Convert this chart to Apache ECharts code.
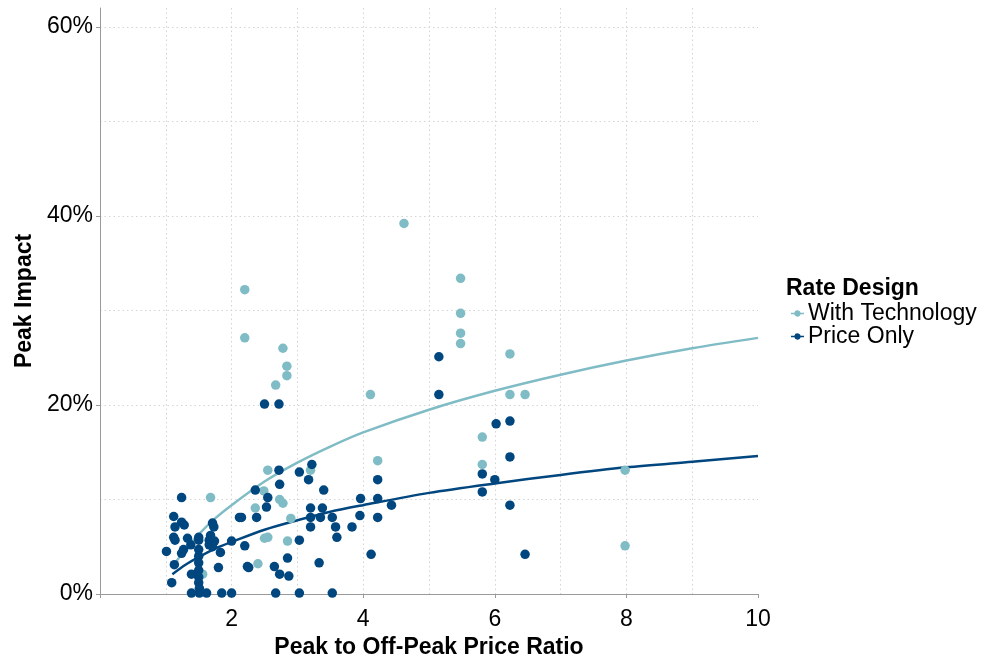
<!DOCTYPE html>
<html>
<head>
<meta charset="utf-8">
<script src="https://cdn.jsdelivr.net/npm/echarts@6/dist/echarts.min.js"></script>
<style>html,body{margin:0;padding:0;background:#fff}#c{width:982px;height:655px}</style>
</head>
<body>
<div id="c"></div>
<script>
var xTicks = [2, 4, 6, 8, 10];
var yTicks = [0, 20, 40, 60];
var seriesNames = ['With Technology', 'Price Only'];

var withTechnology = [
  [2.20,32.2],[2.20,27.1],[2.78,26.0],[2.84,24.1],[2.84,23.1],[2.67,22.1],[4.11,21.1],[4.62,39.2],
  [5.48,33.4],[5.48,29.7],[5.48,27.6],[5.48,26.5],[6.23,25.4],[6.23,21.1],[6.46,21.1],[5.81,16.6],
  [5.81,13.7],[7.98,13.1],[7.98,5.1],[4.22,14.1],[3.20,13.1],[2.55,13.1],[2.49,10.9],[2.73,10.0],
  [2.78,9.6],[2.36,9.1],[2.90,8.0],[2.50,5.9],[2.55,6.0],[2.85,5.6],[2.40,3.2],[1.68,10.2],[1.56,2.1]
];

var priceOnly = [
  [2.50,20.1],[2.72,20.1],[3.22,13.7],[5.15,25.1],[5.15,21.1],[6.02,18.0],[6.23,18.3],[6.23,14.5],
  [5.81,12.7],[6.00,12.1],[5.81,10.8],[6.23,9.4],[6.46,4.2],
  [4.22,12.1],[4.22,10.1],[3.96,10.1],[4.43,9.4],[3.95,8.3],[4.22,8.1],[3.83,7.1],[4.12,4.2],
  [3.20,9.1],[3.38,9.1],[3.20,8.1],[3.35,8.1],[3.53,8.1],[3.20,7.1],[3.58,7.1],[3.60,6.0],[3.03,5.7],
  [3.17,12.1],[3.03,12.9],[3.40,11.0],[3.33,3.3],[3.53,0.1],[3.03,0.1],
  [2.72,13.1],[2.73,11.6],[2.36,11.0],[2.55,10.2],[2.53,9.2],[2.15,8.1],[2.38,8.1],[2.20,5.1],
  [2.85,3.8],[2.26,2.8],[2.65,2.9],[2.73,2.1],[2.87,1.9],[2.67,0.1],
  [1.24,10.2],[1.12,8.2],[1.24,7.6],[1.28,7.3],[1.14,7.1],[1.12,6.0],[1.14,5.7],[1.33,5.9],
  [1.50,6.0],[1.50,5.7],[1.71,7.5],[1.73,7.1],[1.68,6.2],[1.66,5.7],[1.74,5.6],[1.01,4.5],
  [1.27,4.7],[1.24,4.3],[1.38,5.2],[1.50,4.7],[1.50,4.0],[1.50,3.3],[1.50,2.5],[1.50,1.8],
  [1.50,1.2],[1.66,5.2],[1.71,5.0],[1.83,4.4],[2.00,5.6],[2.12,8.1],[2.24,2.9],[1.80,2.8],
  [1.39,2.1],[1.09,1.2],[1.51,0.6],[1.39,0.1],[1.51,0.1],[1.62,0.1],[1.85,0.1],[2.00,0.1],[1.13,3.1]
];

// fitted curves
var withTechnologyFit = [[1.1,2.9],[1.3,4.7],[1.5,6.3],[1.75,8.0],[2,9.4],[2.5,11.9],[3,13.9],[3.5,15.6],[4,17.1],[5,19.5],[6,21.5],[7,23.2],[8,24.7],[9,26.0],[10,27.1]];
var priceOnlyFit = [[1.1,2.1],[1.3,3.1],[1.5,3.9],[1.75,4.8],[2,5.5],[2.5,6.8],[3,7.8],[3.5,8.7],[4,9.4],[5,10.7],[6,11.7],[7,12.6],[8,13.4],[9,14.0],[10,14.6]];

var LIGHT = '#80bcc5';
var DARK = '#00467f';
var FONT = 'Liberation Sans, Arial, sans-serif';
var legendIcon = 'path://M0,2.4H3.1A3,3 0 0 1 8.9,2.4H12V3.6H8.9A3,3 0 0 1 3.1,3.6H0Z';

var chart = echarts.init(document.getElementById('c'), null, {renderer: 'canvas'});
var gridStyle = {show: true, showMaxLine: false, lineStyle: {color: '#d4d4d4', type: [1.5, 3], width: 1}};
var tickStyle = {show: true, length: 4, inside: false, lineStyle: {color: '#9a9a9a', width: 1}};
chart.setOption({
  animation: false,
  backgroundColor: '#fff',
  textStyle: {fontFamily: FONT},
  title: {
    text: 'Rate Design', left: 781, top: 272,
    textStyle: {fontSize: 23, fontWeight: 'bold', color: '#000', fontFamily: FONT}
  },
  legend: {
    orient: 'vertical', left: 786, top: 297, itemGap: 0, itemWidth: 13, itemHeight: 8,
    icon: legendIcon,
    textStyle: {fontSize: 23, lineHeight: 20, color: '#000', padding: [0, 0, 0, -1], fontFamily: FONT},
    data: [
      {name: seriesNames[0], itemStyle: {color: LIGHT}},
      {name: seriesNames[1], itemStyle: {color: DARK}}
    ]
  },
  grid: {left: 100, right: 224, top: 8, bottom: 61, outerBoundsMode: 'none', containLabel: false},
  xAxis: [{
    type: 'value', min: 0, max: 10, interval: 1, offset: 4,
    name: 'Peak to Off-Peak Price Ratio', nameLocation: 'middle', nameGap: 32,
    nameTextStyle: {fontSize: 23, fontWeight: 'bold', color: '#000'},
    axisLine: {show: true, lineStyle: {color: '#9a9a9a', width: 1}},
    axisTick: {show: false},
    axisLabel: {
      fontSize: 23, color: '#000', margin: 10,
      formatter: function (v) { return xTicks.indexOf(v) >= 0 ? String(v) : ''; }
    },
    splitLine: gridStyle
  }, {
    type: 'value', min: 0, max: 10, interval: 2, offset: 4, position: 'bottom',
    axisLine: {show: false}, axisLabel: {show: false}, splitLine: {show: false},
    axisTick: tickStyle
  }],
  yAxis: [{
    type: 'value', min: 0, max: 62, interval: 10,
    name: 'Peak Impact', nameLocation: 'middle', nameGap: 60, nameRotate: 90,
    nameTextStyle: {fontSize: 23, fontWeight: 'bold', color: '#000'},
    axisLine: {show: true, lineStyle: {color: '#9a9a9a', width: 1}},
    axisTick: {show: false},
    axisLabel: {
      fontSize: 23, color: '#000', margin: 7, showMaxLabel: false,
      formatter: function (v) { return yTicks.indexOf(v) >= 0 ? v + '%' : ''; }
    },
    splitLine: gridStyle
  }, {
    type: 'value', min: 0, max: 62, position: 'left',
    axisLine: {show: false}, axisLabel: {show: false}, splitLine: {show: false},
    axisTick: {show: true, length: 4, lineStyle: {color: '#9a9a9a', width: 1}, customValues: yTicks}
  }],
  series: [
    {name: seriesNames[0], type: 'line', data: withTechnologyFit, smooth: 0.3, showSymbol: false,
     lineStyle: {color: LIGHT, width: 2.5}, itemStyle: {color: LIGHT}, z: 1},
    {name: seriesNames[1], type: 'line', data: priceOnlyFit, smooth: 0.3, showSymbol: false,
     lineStyle: {color: DARK, width: 2.5}, itemStyle: {color: DARK}, z: 1},
    {name: seriesNames[0], type: 'scatter', data: withTechnology, symbolSize: 9.5,
     itemStyle: {color: LIGHT, opacity: 1}, z: 2},
    {name: seriesNames[1], type: 'scatter', data: priceOnly, symbolSize: 9.5,
     itemStyle: {color: DARK, opacity: 1}, z: 3}
  ]
});
</script>
</body>
</html>
